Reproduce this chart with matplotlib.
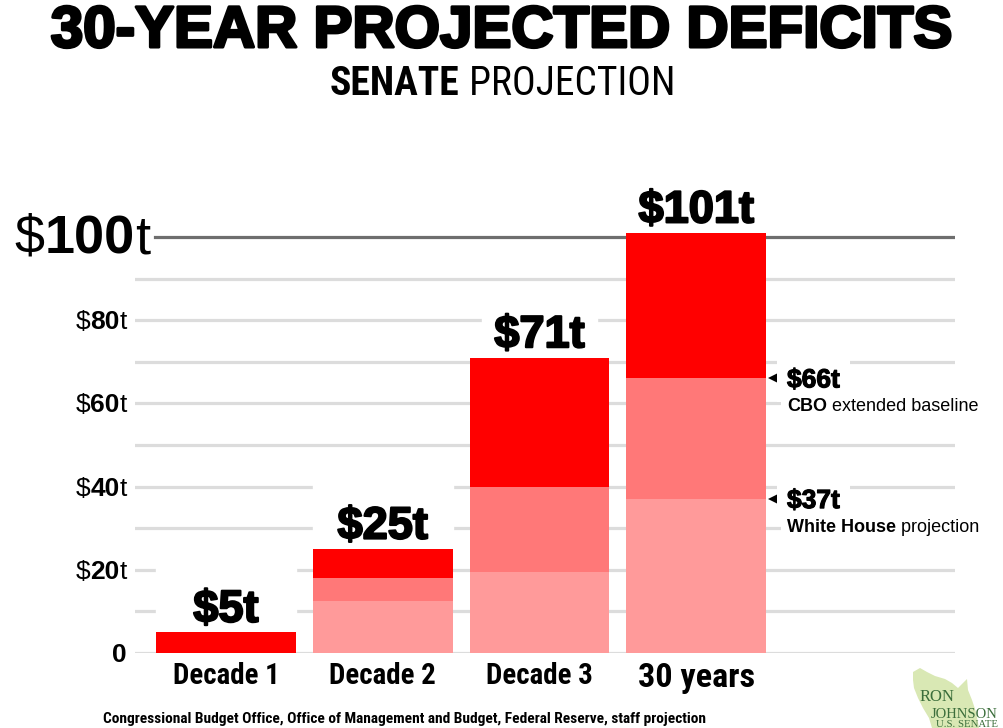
"""30-year projected deficits: stacked bars with Senate / CBO / White House levels."""

import matplotlib

matplotlib.use("Agg")
import matplotlib.pyplot as plt  # noqa: E402
import matplotlib.patheffects as pe  # noqa: E402
from matplotlib import font_manager as fm  # noqa: E402
from matplotlib.patches import Polygon, Rectangle  # noqa: E402
from matplotlib.transforms import IdentityTransform, ScaledTranslation  # noqa: E402

W, H = 1004, 728

# --- data (trillions of dollars, cumulative levels per bar) ---
categories = ["Decade 1", "Decade 2", "Decade 3", "30 years"]
senate_total = [5, 25, 71, 101]
cbo_total = [0, 18, 40, 66]
white_house_total = [0, 12.5, 19.5, 37]
value_labels = ["$5t", "$25t", "$71t", "$101t"]
tick_values = [20, 40, 60, 80]
grid_levels = [0, 10, 20, 30, 40, 50, 60, 70, 80, 90]
top_level = 100
callout_values = [66, 37]
callout_labels = ["$66t", "$37t"]
callout_bold = ["CBO", "White House"]
callout_rest = [" extended baseline", " projection"]
title = "30-YEAR PROJECTED DEFICITS"
subtitle_bold = "SENATE"
subtitle_rest = " PROJECTION"
source = ("Congressional Budget Office, Office of Management and Budget, "
          "Federal Reserve, staff projection")


def pick_condensed():
    """Find an installed narrow sans face; fall back to Liberation Sans."""
    prefs = ["Liberation Sans Narrow", "Roboto Condensed", "Open Sans Condensed",
             "Noto Sans", "Open Sans", "DejaVu Sans", "Roboto"]
    found = {}
    for f in fm.fontManager.ttflist:
        narrow = ("condensed" in str(f.stretch) and "extra" not in str(f.stretch)
                  and "ultra" not in str(f.stretch))
        if "Narrow" in f.name or "Condensed" in f.name or narrow:
            found.setdefault(f.name, f.stretch)
    for name in prefs:
        if name in found:
            return name, found[name]
    return "Liberation Sans", "normal"


COND_NAME, COND_STRETCH = pick_condensed()
SANS = ["Liberation Sans", "DejaVu Sans"]
NARROW = dict(family=[COND_NAME, "Liberation Sans"], fontstretch=COND_STRETCH)
SERIF = ["Liberation Serif", "DejaVu Serif"]
RED, MID, LIGHT = "#ff0000", "#ff7878", "#ff9a9a"
GRID, DARK = "#dcdcdc", "#6e6e6e"

fig = plt.figure(figsize=(W / 100, H / 100), dpi=100)
fig.patch.set_facecolor("white")
ax = fig.add_axes([135 / W, (H - 653) / H, 820 / W, 110 * 4.16 / H])
ax.set_xlim(-0.58, 4.65)
ax.set_ylim(0, 110)
ax.axis("off")
renderer = fig.canvas.get_renderer()


def rich(x, y, pieces, ha="left", zorder=6, bg_pad=None):
    """Draw text pieces side by side in display pixels (baseline at y)."""
    objs = [fig.text(0, 0, s, transform=IdentityTransform(), va="baseline",
                     zorder=zorder, **kw) for s, kw in pieces]
    widths = [o.get_window_extent(renderer).width for o in objs]
    total = sum(widths)
    cx = {"left": x, "right": x - total, "center": x - total / 2}[ha]
    for o, w in zip(objs, widths):
        o.set_position((cx, y))
        cx += w
    if bg_pad is not None:
        exts = [o.get_window_extent(renderer) for o in objs]
        x0 = min(e.x0 for e in exts) - bg_pad
        x1 = max(e.x1 for e in exts) + bg_pad
        y0 = min(e.y0 for e in exts) - bg_pad
        y1 = max(e.y1 for e in exts) + bg_pad
        fig.patches.append(Rectangle((x0, y0), x1 - x0, y1 - y0, fc="white",
                                     ec="none", zorder=1,
                                     transform=IdentityTransform(), figure=fig))
    return objs


def fit(t, target):
    w = t.get_window_extent(renderer).width
    t.set_fontsize(t.get_fontsize() * target / w)
    return t.get_fontsize()


def disp_y(v):
    return ax.transData.transform((0, v))[1]


# grid
for g in grid_levels:
    ax.axhline(g, color=GRID, lw=2.3, zorder=1)
ax.axhline(top_level, xmin=20 / 820, color=DARK, lw=2.3, zorder=1)

# bars
xs = list(range(len(categories)))
bw = 140 / 157
cbo_part = [c - w for c, w in zip(cbo_total, white_house_total)]
sen_part = [s - c for s, c in zip(senate_total, cbo_total)]
ax.bar(xs, white_house_total, width=bw, color=LIGHT, zorder=3)
ax.bar(xs, cbo_part, bottom=white_house_total, width=bw, color=MID, zorder=3)
ax.bar(xs, sen_part, bottom=cbo_total, width=bw, color=RED, zorder=3)

for x, v, lab in zip(xs, senate_total, value_labels):
    if v < top_level:
        mw = bw if v < 50 else bw * 0.82
        ax.add_patch(Rectangle((x - mw / 2, v), mw, 17, color="white", zorder=2,
                               clip_on=False))
    ax.annotate(lab, (x, v), xytext=(0, 7.5), textcoords="offset points",
                ha="center", va="baseline", fontsize=32.5, fontweight="bold",
                family=SANS, zorder=5, annotation_clip=False,
                path_effects=[pe.withStroke(linewidth=1.5, foreground="black")])

cat_texts = []
for x, cat in zip(xs, categories):
    big = cat == categories[-1]
    cat_texts.append(ax.annotate(
        cat, (x, 0), xytext=(0, -24.5 if big else -22.3),
        textcoords="offset points", ha="center", va="baseline",
        fontsize=27 if big else 21, fontweight="bold",
        annotation_clip=False, **NARROW))
size = fit(cat_texts[0], 107)
for ct in cat_texts[1:-1]:
    ct.set_fontsize(size)
fit(cat_texts[-1], 117)

# y tick labels
for v in tick_values:
    rich(127, disp_y(v) - 9, [
        ("$", dict(fontsize=19, family=SANS)),
        (str(v), dict(fontsize=19, family=SANS, fontweight="bold")),
        ("t", dict(fontsize=19, family=SANS)),
    ], ha="right")
rich(127, disp_y(0) - 9, [("0", dict(fontsize=19, family=SANS, fontweight="bold"))],
     ha="right")
rich(150, disp_y(top_level) - 16, [
    ("$", dict(fontsize=39, family=SANS)),
    (str(top_level), dict(fontsize=39, family=SANS, fontweight="bold")),
    ("t", dict(fontsize=39, family=SANS)),
], ha="right")

# callouts on the 30-year bar
bar_right = xs[-1] + bw / 2
nudge = ax.transData + ScaledTranslation(6.5 / 72, 0, fig.dpi_scale_trans)
for v, lab, b, rest in zip(callout_values, callout_labels, callout_bold, callout_rest):
    ax.plot([bar_right], [v], marker="<", color="black", markersize=10,
            markeredgewidth=0, clip_on=False, zorder=6, transform=nudge)
    yv = disp_y(v)
    rich(787, yv - 9, [(lab, dict(fontsize=19, family=SANS, fontweight="bold",
                                  path_effects=[pe.withStroke(linewidth=0.8,
                                                              foreground="black")]))],
         bg_pad=10)
    rich(787, yv - 33, [
        (b, dict(fontsize=13, family=SANS, fontweight="bold")),
        (rest, dict(fontsize=13, family=SANS)),
    ], bg_pad=6)

# titles
t = fig.text(501.5 / W, (H - 47) / H, title, ha="center", va="baseline",
             fontsize=42, fontweight="bold", family=SANS,
             path_effects=[pe.withStroke(linewidth=2.2, foreground="black")])
fit(t, 902)
sub = rich(503, H - 95, [
    (subtitle_bold, dict(fontsize=28, fontweight="bold", **NARROW)),
    (subtitle_rest, dict(fontsize=28, **NARROW)),
], ha="center")
sub_w = sum(o.get_window_extent(renderer).width for o in sub)
for o in sub:
    o.set_fontsize(o.get_fontsize() * 346 / sub_w)
cx = 503 - 346 / 2
for o in sub:
    o.set_position((cx, H - 95))
    cx += o.get_window_extent(renderer).width

src = fig.text(103 / W, (H - 723) / H, source, ha="left", va="baseline",
               fontsize=10, fontweight="bold", **NARROW)
fit(src, 602)

# logo (Wisconsin outline + name)
outline = [(913, 672), (920, 668), (927, 672), (935, 676), (945, 679), (952, 683),
           (958, 688), (962, 684), (967, 679), (968, 690), (972, 700), (976, 712),
           (979, 728), (932, 728), (929, 718), (923, 708), (918, 698), (914, 688),
           (913, 680)]
fig.patches.append(Polygon([(px / W, 1 - py / H) for px, py in outline],
                           closed=True, fc="#d9e8b4", ec="none",
                           transform=fig.transFigure, figure=fig))
green = "#3b6e3b"
fig.text(920 / W, (H - 701) / H, "RON", fontsize=12, family=SERIF, color=green,
         va="baseline")
jt = fig.text(931 / W, (H - 718) / H, "JOHNSON", fontsize=12, family=SERIF,
              color=green, va="baseline")
fit(jt, 66)
st = fig.text(936 / W, (H - 727) / H, "U.S. SENATE", fontsize=6, family=SERIF,
              color=green, va="baseline")
fit(st, 62)

fig.savefig("out.png", dpi=100)
